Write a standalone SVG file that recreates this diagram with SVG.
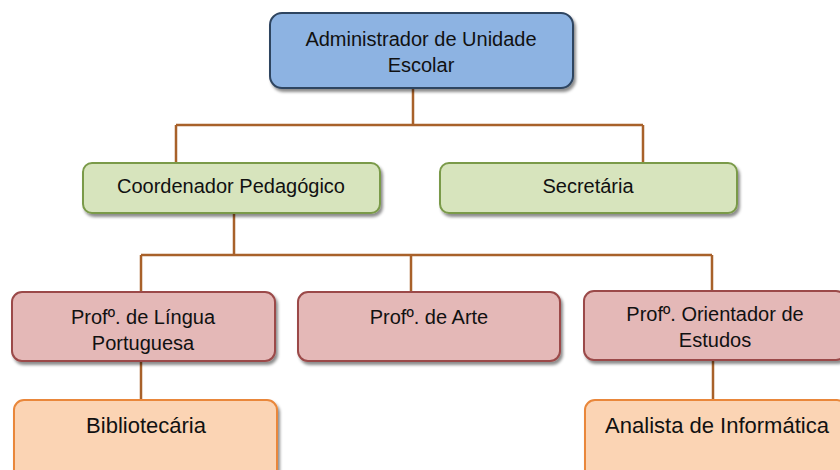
<svg xmlns="http://www.w3.org/2000/svg" width="840" height="470" viewBox="0 0 840 470">
<defs>
<filter id="sh" x="-10%" y="-10%" width="130%" height="140%">
<feDropShadow dx="2" dy="3" stdDeviation="1.5" flood-color="#000" flood-opacity="0.45"/>
</filter>
</defs>
<style>
.box{stroke-width:2;filter:url(#sh)}
.blue{fill:#8db3e2;stroke:#2e4460}
.green{fill:#d7e4bd;stroke:#7a9a48}
.red{fill:#e4b8b7;stroke:#9b4a49}
.orange{fill:#fbd4b4;stroke:#e9873a}
text{font-family:"Liberation Sans",Arial,sans-serif;font-size:20px;fill:#111;text-anchor:middle}
.big{font-size:22px}
.conn{fill:none;stroke:#a8612a;stroke-width:2.5}
</style>
<rect width="840" height="470" fill="#fff"/>
<g id="connectors" class="conn">
<path d="M413 88V125M176 125H643M176 125V163M643 125V163"/>
<path d="M234 213V255M141 255H712M141 255V292M411 255V292M712 255V291"/>
<path d="M141 362V400M713 360V400"/>
</g>
<g id="admin">
<rect class="box blue" x="270" y="13" width="303" height="75" rx="12"/>
<text x="421" y="46">Administrador de Unidade</text>
<text x="421" y="72">Escolar</text>
</g>
<g id="coord">
<rect class="box green" x="83" y="163" width="297" height="50" rx="9"/>
<text x="231" y="193">Coordenador Pedagógico</text>
</g>
<g id="secretaria">
<rect class="box green" x="440" y="163" width="297" height="50" rx="9"/>
<text x="588" y="193">Secretária</text>
</g>
<g id="lingua">
<rect class="box red" x="12" y="292" width="263" height="69" rx="10"/>
<text x="143" y="324">Profº. de Língua</text>
<text x="143" y="350">Portuguesa</text>
</g>
<g id="arte">
<rect class="box red" x="298" y="292" width="262" height="69" rx="10"/>
<text x="429" y="324">Profº. de Arte</text>
</g>
<g id="orientador">
<rect class="box red" x="584" y="291" width="262" height="69" rx="10"/>
<text x="715" y="321">Profº. Orientador de</text>
<text x="715" y="347">Estudos</text>
</g>
<g id="bibliotecaria">
<rect class="box orange" x="14" y="400" width="263" height="80" rx="10"/>
<text class="big" x="146" y="433">Bibliotecária</text>
</g>
<g id="analista">
<rect class="box orange" x="585" y="400" width="262" height="80" rx="10"/>
<text class="big" x="717" y="433">Analista de Informática</text>
</g>
</svg>
